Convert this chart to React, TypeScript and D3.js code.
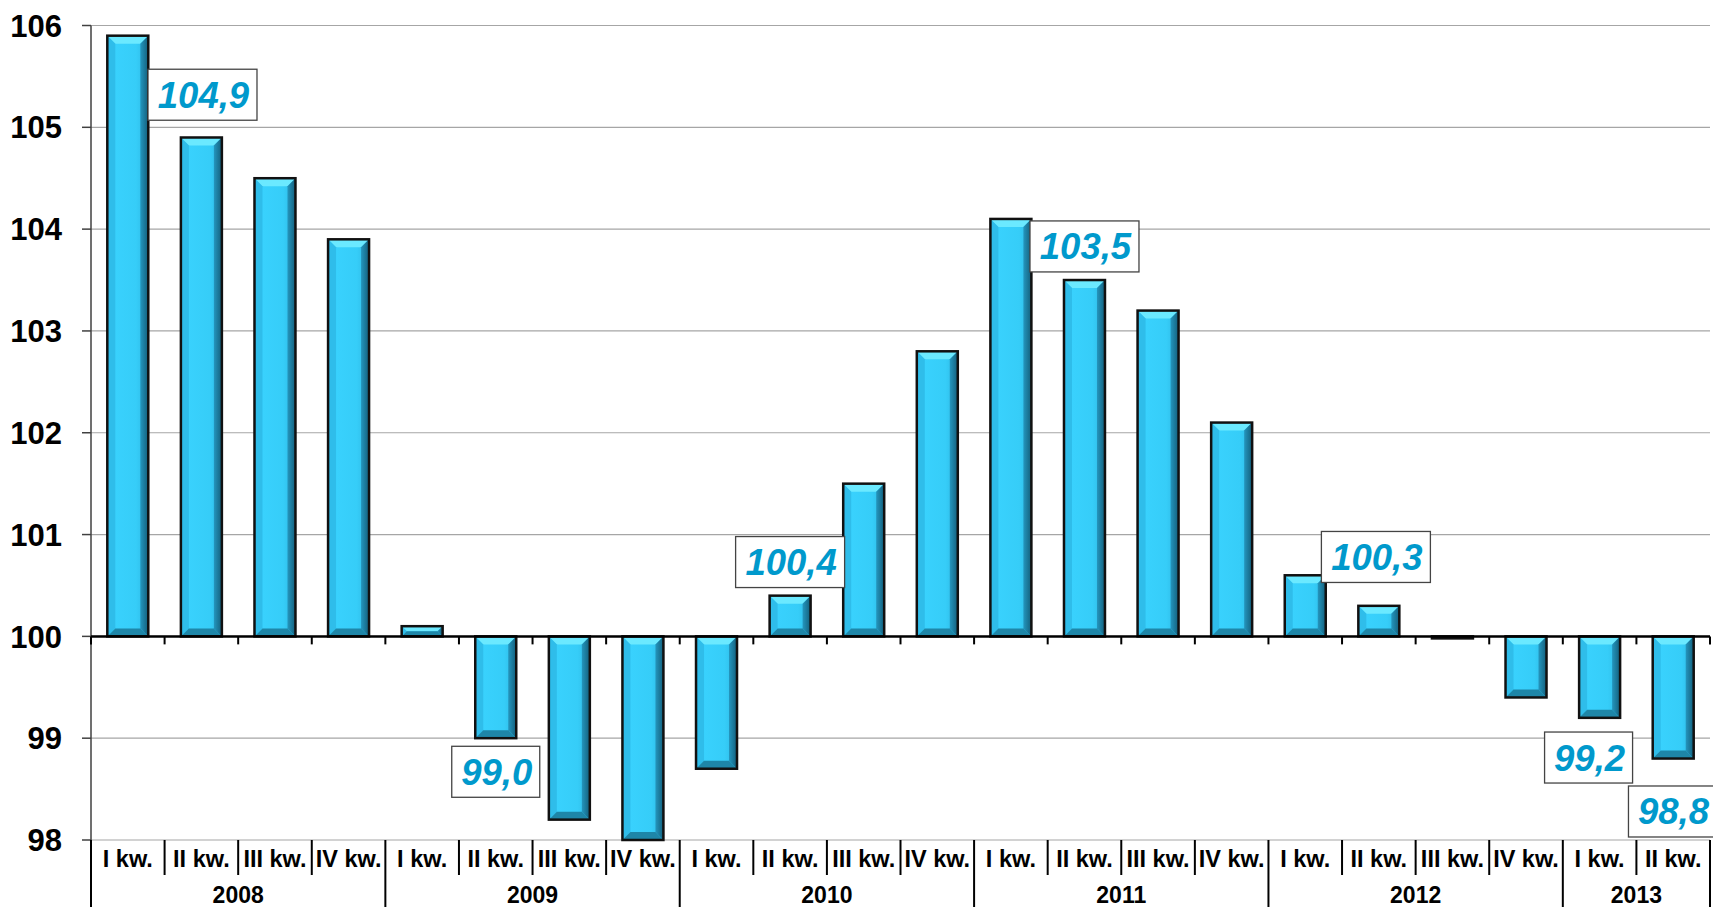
import React from "react";
import * as d3 from "d3";

const quarters = [
  "I kw.", "II kw.", "III kw.", "IV kw.",
  "I kw.", "II kw.", "III kw.", "IV kw.",
  "I kw.", "II kw.", "III kw.", "IV kw.",
  "I kw.", "II kw.", "III kw.", "IV kw.",
  "I kw.", "II kw.", "III kw.", "IV kw.",
  "I kw.", "II kw.",
];
const years = ["2008", "2009", "2010", "2011", "2012", "2013"];
const quartersPerYear = [4, 4, 4, 4, 4, 2];
const values = [
  105.9, 104.9, 104.5, 103.9,
  100.1, 99.0, 98.2, 98.0,
  98.7, 100.4, 101.5, 102.8,
  104.1, 103.5, 103.2, 102.1,
  100.6, 100.3, 99.98, 99.4,
  99.2, 98.8,
];
const yTicks = [98, 99, 100, 101, 102, 103, 104, 105, 106];
const annotLabels = ["104,9", "99,0", "100,4", "103,5", "100,3", "99,2", "98,8"];
// layout of the annotation boxes: [category position (in bands), y value]
const annotAnchors: [number, number][] = [
  [1.515, 105.32],
  [5.5, 98.67],
  [9.5, 100.73],
  [13.5, 103.83],
  [17.46, 100.78],
  [20.35, 98.81],
  [21.49, 98.28],
];

const W = 1713;
const H = 907;
const X0 = 91;
const X1 = 1710;
const FONT = "'Liberation Sans', Arial, Helvetica, sans-serif";

export default function App() {
  const n = quarters.length;
  const idx = d3.range(n).map(String);
  const x = d3.scaleBand<string>().domain(idx).range([X0, X1]).paddingInner(0.443).paddingOuter(0.2215);
  const step = (X1 - X0) / n;
  const bx = (p: number) => X0 + p * step;
  const y = d3.scaleLinear().domain([98, 106]).range([840, 25.5]);
  const base = y(100);

  const bars = values.map((v, i) => {
    const x0 = x(String(i))!;
    const x1 = x0 + x.bandwidth();
    const y0 = Math.min(y(v), base);
    const y1 = Math.max(y(v), base);
    const h = y1 - y0;
    const d = Math.min(8, h / 2, x.bandwidth() / 2);
    return { x0, x1, y0, y1, d, h };
  });

  const bounds: number[] = [0];
  quartersPerYear.forEach((c) => bounds.push(bounds[bounds.length - 1] + c));

  const pts = (a: number[][]) => a.map((p) => p.join(",")).join(" ");

  return (
    <svg width={W} height={H} style={{ position: "absolute", left: 0, top: 0, background: "#fff" }}>
      <defs>
        <linearGradient id="face" x1="0" x2="1" y1="0" y2="0">
          <stop offset="0" stopColor="#3AD3FF" />
          <stop offset="0.7" stopColor="#36CDF8" />
          <stop offset="1" stopColor="#2CB6E2" />
        </linearGradient>
        <linearGradient id="rside" x1="0" x2="1" y1="0" y2="0">
          <stop offset="0" stopColor="#2496BE" />
          <stop offset="1" stopColor="#135F7C" />
        </linearGradient>
      </defs>
      {yTicks.map((t) => (
        <line key={"g" + t} x1={X0} x2={X1} y1={y(t)} y2={y(t)} stroke="#A6A6A6" strokeWidth={1.2} />
      ))}
      <line x1={X0} x2={X0} y1={y(106)} y2={H} stroke="#404040" strokeWidth={1.5} />
      {yTicks.map((t) => (
        <g key={"t" + t}>
          <line x1={X0 - 9} x2={X0} y1={y(t)} y2={y(t)} stroke="#404040" strokeWidth={1.5} />
          <text x={62} y={y(t)} dy="0.36em" textAnchor="end" fontFamily={FONT} fontWeight="bold" fontSize={31} fill="#000">
            {t}
          </text>
        </g>
      ))}
      {bars.map((b, i) => {
        const { x0, x1, y0, y1, d } = b;
        return (
          <g key={"b" + i}>
            <rect x={x0} y={y0} width={x1 - x0} height={y1 - y0} fill="url(#face)" />
            {d > 0 && (
              <>
                <polygon points={pts([[x0, y0], [x1, y0], [x1 - d, y0 + d], [x0 + d, y0 + d]])} fill="#6BE9FF" />
                <polygon points={pts([[x0, y0], [x0 + d, y0 + d], [x0 + d, y1 - d], [x0, y1]])} fill="#2FBDEA" />
                <polygon points={pts([[x1, y0], [x1, y1], [x1 - d, y1 - d], [x1 - d, y0 + d]])} fill="url(#rside)" />
                <polygon points={pts([[x0, y1], [x0 + d, y1 - d], [x1 - d, y1 - d], [x1, y1]])} fill="#1E86A8" />
              </>
            )}
            <rect x={x0} y={y0} width={x1 - x0} height={y1 - y0} fill="none" stroke="#111" strokeWidth={2.5} />
          </g>
        );
      })}
      <line x1={X0} x2={X1} y1={base} y2={base} stroke="#000" strokeWidth={2.5} />
      {d3.range(n + 1).map((k) => (
        <line key={"ct" + k} x1={bx(k)} x2={bx(k)} y1={base} y2={base + 8} stroke="#000" strokeWidth={2} />
      ))}
      {d3.range(n + 1).map((k) => {
        const isYear = bounds.includes(k);
        return (
          <line key={"sep" + k} x1={bx(k)} x2={bx(k)} y1={840} y2={isYear ? H : 875} stroke="#000" strokeWidth={2} />
        );
      })}
      {quarters.map((q, i) => (
        <text key={"q" + i} x={bx(i + 0.5)} y={867} textAnchor="middle" fontFamily={FONT} fontWeight="bold" fontSize={23.5} fill="#000">
          {q}
        </text>
      ))}
      {years.map((yr, i) => (
        <text key={"y" + i} x={bx((bounds[i] + bounds[i + 1]) / 2)} y={903} textAnchor="middle" fontFamily={FONT} fontWeight="bold" fontSize={23} fill="#000">
          {yr}
        </text>
      ))}
      {annotLabels.map((lab, i) => {
        const [p, v] = annotAnchors[i];
        const cx = bx(p);
        const cy = y(v);
        const w = lab.length >= 5 ? 109 : 88;
        const h = 51;
        return (
          <g key={"a" + i}>
            <rect x={cx - w / 2} y={cy - h / 2} width={w} height={h} fill="#fff" stroke="#444" strokeWidth={1.3} />
            <text x={cx + 1} y={cy + 13} textAnchor="middle" fontFamily={FONT} fontWeight="bold" fontStyle="italic" fontSize={36.5} fill="#0099CC">
              {lab}
            </text>
          </g>
        );
      })}
    </svg>
  );
}
